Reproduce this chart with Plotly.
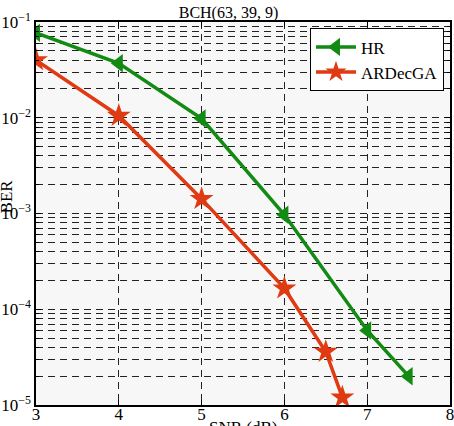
import plotly.graph_objects as go

snr_hr = [3, 4, 5, 6, 7, 7.5]
ber_hr = [0.077, 0.037, 0.0098, 0.00097, 6.0e-5, 2.0e-5]
snr_ga = [3, 4, 5, 6, 6.5, 6.7]
ber_ga = [0.040, 0.0105, 0.00142, 0.000165, 3.6e-5, 1.2e-5]

x_ticks = [3, 4, 5, 6, 7, 8]
y_ticks = [1e-5, 1e-4, 1e-3, 1e-2, 1e-1]
y_tick_text = ["10<sup>\u22125</sup>", "10<sup>\u22124</sup>", "10<sup>\u22123</sup>",
               "10<sup>\u22122</sup>", "10<sup>\u22121</sup>"]
minor_y = [m * 10.0 ** e for e in range(-5, -1) for m in range(2, 10)]

FONT = "Liberation Serif"
GREEN = "#138a13"
RED = "#e03a12"

fig = go.Figure()
fig.add_trace(go.Scatter(x=snr_hr, y=ber_hr, name="HR", mode="lines+markers",
                         line=dict(color=GREEN, width=3.5),
                         marker=dict(symbol="triangle-left", size=16, color=GREEN)))
fig.add_trace(go.Scatter(x=snr_ga, y=ber_ga, name="ARDecGA", mode="lines+markers",
                         line=dict(color=RED, width=3.5),
                         marker=dict(symbol="star", size=18, color=RED)))

grid = dict(showgrid=True, gridcolor="#222", gridwidth=1, griddash="7px,5px")

fig.update_xaxes(range=[3, 8], tickvals=x_ticks, ticks="inside", ticklen=5,
                 tickcolor="black", showline=True, linecolor="black", linewidth=1.5,
                 mirror="ticks", zeroline=False, automargin=False,
                 ticklabeloverflow="allow", ticklabelstandoff=-7,
                 tickfont=dict(family=FONT, size=17, color="black"), **grid)
fig.update_yaxes(type="log", range=[-5, -1], tickvals=y_ticks, ticktext=y_tick_text,
                 ticks="inside", ticklen=5, tickcolor="black", showline=True,
                 linecolor="black", linewidth=1.5, mirror="ticks", automargin=False,
                 ticklabeloverflow="allow",
                 tickfont=dict(family=FONT, size=17, color="black"),
                 minor=dict(tickmode="array", tickvals=minor_y, showgrid=True,
                            gridcolor="#222", gridwidth=1, griddash="7px,5px",
                            ticks="inside", ticklen=3, tickcolor="black"),
                 **grid)

fig.update_layout(
    width=454, height=426,
    margin=dict(l=36, r=4, t=22, b=21, autoexpand=False),
    paper_bgcolor="white", plot_bgcolor="#f7f7f7",
    font=dict(family=FONT, color="black"),
    title=dict(text="BCH(63, 39, 9)", xref="paper", x=0.465, xanchor="center",
               yref="container", y=0.971, yanchor="middle",
               font=dict(family=FONT, size=16, color="black")),
    showlegend=True,
    legend=dict(x=0.985, y=0.984, xanchor="right", yanchor="top",
                bgcolor="white", bordercolor="black", borderwidth=1.2,
                font=dict(family=FONT, size=17, color="black"),
                itemwidth=40, tracegroupgap=0),
    annotations=[
        dict(text="BER", textangle=-90, xref="paper", yref="paper", x=-0.072, y=0.545,
             xanchor="center", yanchor="middle", showarrow=False,
             font=dict(family=FONT, size=17, color="black")),
        dict(text="SNR (dB)", xref="paper", yref="paper", x=0.5, y=-0.03,
             xanchor="center", yanchor="top", showarrow=False,
             font=dict(family=FONT, size=17, color="black")),
    ],
)

fig.write_html("out.html")
